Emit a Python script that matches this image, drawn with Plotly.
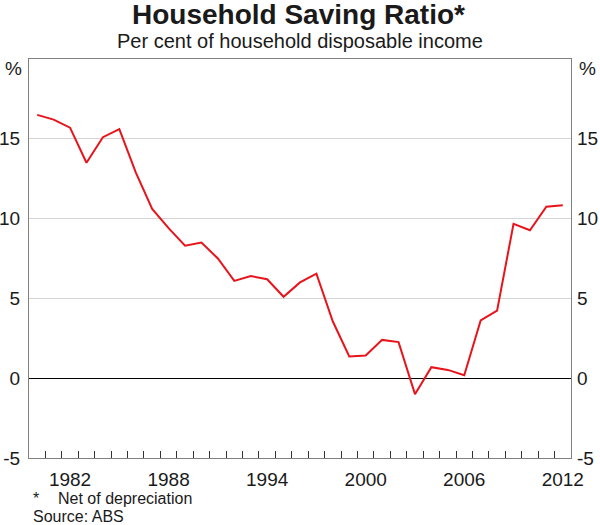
import plotly.graph_objects as go

years = list(range(1980, 2013))
saving_ratio = [16.5, 16.2, 15.7, 13.5, 15.1, 15.6, 12.9, 10.6, 9.4, 8.3, 8.5,
                7.5, 6.1, 6.4, 6.2, 5.1, 6.0, 6.55, 3.55, 1.36, 1.42, 2.4, 2.26,
                -1.0, 0.69, 0.52, 0.19, 3.62, 4.23, 9.67, 9.27, 10.74, 10.84]
x_tick_vals = [1982, 1988, 1994, 2000, 2006, 2012]
x_tick_text = ["1982", "1988", "1994", "2000", "2006", "2012"]
y_tick_vals = [-5, 0, 5, 10, 15]
y_tick_text = ["-5", "0", "5", "10", "15"]
year_boundaries = [y + 0.5 for y in years[:-1]]

FONT = "Liberation Sans, Arial, sans-serif"
TXT = "#1a1a1a"
W, H = 600, 525
ML, MR, MT, MB = 29, 29, 59, 67
TICK_SIZE = 19

fig = go.Figure()
fig.add_trace(go.Scatter(x=years, y=saving_ratio, mode="lines",
                         line=dict(color="#e8141c", width=2),
                         showlegend=False, hoverinfo="x+y"))
fig.add_trace(go.Scatter(x=years, y=saving_ratio, mode="lines", xaxis="x2", yaxis="y2",
                         line=dict(color="rgba(0,0,0,0)", width=0),
                         showlegend=False, hoverinfo="skip"))

axis_line = "#808080"
fig.update_layout(
    width=W, height=H,
    margin=dict(l=ML, r=MR, t=MT, b=MB, autoexpand=False),
    paper_bgcolor="white", plot_bgcolor="white",
    font=dict(family=FONT, color=TXT, size=TICK_SIZE),
    xaxis=dict(range=[1979.5, 2012.5], tickvals=year_boundaries,
               ticks="inside", ticklen=7, tickcolor="#333333", tickwidth=1,
               showticklabels=False, showgrid=False, zeroline=False,
               showline=True, mirror=True, linecolor=axis_line, linewidth=1,
               automargin=False),
    xaxis2=dict(range=[1979.5, 2012.5], tickvals=x_tick_vals, ticktext=x_tick_text,
                overlaying="x", side="bottom", anchor="y", ticks="", showgrid=False,
                zeroline=False, showline=False, automargin=False,
                tickfont=dict(size=TICK_SIZE, color=TXT), ticklabelstandoff=8),
    yaxis=dict(range=[-5, 20], tickvals=y_tick_vals, ticktext=y_tick_text,
               ticks="", showgrid=True, gridcolor="#d4d4d4", gridwidth=1,
               zeroline=True, zerolinecolor="#000000", zerolinewidth=1,
               showline=True, mirror=True, linecolor=axis_line, linewidth=1,
               tickfont=dict(size=TICK_SIZE, color=TXT), ticklabelstandoff=4,
               automargin=False),
    yaxis2=dict(range=[-5, 20], tickvals=y_tick_vals, ticktext=y_tick_text,
                overlaying="y", side="right", anchor="x", ticks="", showgrid=False,
                zeroline=False, showline=False, automargin=False,
                tickfont=dict(size=TICK_SIZE, color=TXT), ticklabelstandoff=5),
)

def px_anno(text, px, py, size, xanchor="center", bold=False):
    return dict(text=f"<b>{text}</b>" if bold else text,
                xref="paper", yref="paper",
                x=(px - ML) / (W - ML - MR),
                y=(H - MB - py) / (H - MT - MB),
                xanchor=xanchor, yanchor="middle", showarrow=False,
                font=dict(size=size, color=TXT, family=FONT))

fig.update_layout(annotations=[
    px_anno("Household Saving Ratio*", 298, 14, 28, bold=True),
    px_anno("Per cent of household disposable income", 300, 41, 20),
    px_anno("%", 13, 68, TICK_SIZE),
    px_anno("%", 587, 68, TICK_SIZE),
    px_anno("*", 31, 498, 16, xanchor="left"),
    px_anno("Net of depreciation", 56, 498, 16, xanchor="left"),
    px_anno("Source: ABS", 31, 516, 16, xanchor="left"),
])

fig.write_html("out.html", config={"displayModeBar": False},
               post_script="document.body.style.margin='0';document.body.style.overflow='hidden';")
